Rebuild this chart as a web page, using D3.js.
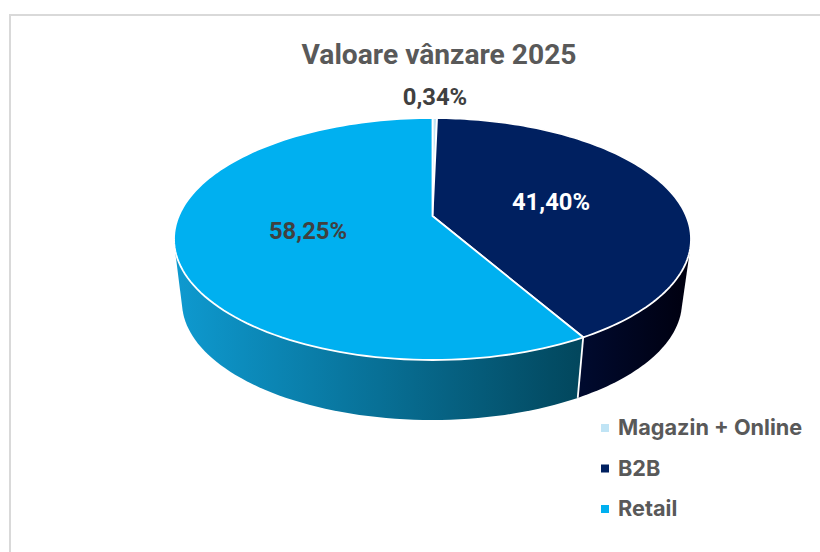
<!DOCTYPE html>
<html><head><meta charset="utf-8">
<script src="https://cdn.jsdelivr.net/npm/d3@7"></script>
<style>html,body{margin:0;padding:0;background:#fff;overflow:hidden}svg{display:block}</style>
</head><body><div id="c"></div>
<script>
const title = "Valoare vânzare 2025";
const categories = ["Magazin + Online","B2B","Retail"];
const values = [0.34,41.40,58.25];
const labels = ["0,34%","41,40%","58,25%"];
const topColors = ["#c0e4f5","#002060","#00b0f0"];
const wallColors = [["#7fb0c5","#5f8fa5"],["#000a2e","#00000f"],["#0e9ad0","#02465c"]];
const labelColors = ["#404040","#ffffff","#404040"];
const W=820,H=552;
const svg=d3.select("#c").append("svg").attr("width",W).attr("height",H);
svg.append("path").attr("d","M10 553V15H821").attr("fill","none").attr("stroke","#d9d9d9").attr("stroke-width",2);

const pie=d3.pie().sort(null).value(d=>d);
const arcs=pie(values);
const tilt=-0.19;
function unit(a){const u=Math.sin(a),v=-Math.cos(a),q=1+tilt*v;
  return [u*Math.sqrt(1-tilt*tilt)/q,(v+tilt)/q];}
const topE={cx:432.5,cy:239,rx:258.5,ry:121};
const botE={cx:432,cy:302,rx:250,ry:118};
const pt=(e,a)=>{const p=unit(a);return [e.cx+e.rx*p[0],e.cy+e.ry*p[1]];};
const samples=(a0,a1)=>d3.range(0,121).map(i=>a0+(a1-a0)*i/120);
const line=d3.line();
const defs=svg.append("defs");
[1,2].forEach(i=>{
  const d=arcs[i];
  const s=samples(d.startAngle,d.endAngle);
  const hull=d3.polygonHull(s.map(a=>pt(topE,a)).concat(s.map(a=>pt(botE,a))));
  const front=s.filter(a=>Math.cos(a)<0.2).map(a=>pt(topE,a)[0]);
  const gid="wall"+i;
  const g=defs.append("linearGradient").attr("id",gid).attr("gradientUnits","userSpaceOnUse")
    .attr("x1",d3.min(front)).attr("x2",d3.max(front)).attr("y1",0).attr("y2",0);
  g.append("stop").attr("offset",0).attr("stop-color",wallColors[i][0]);
  g.append("stop").attr("offset",1).attr("stop-color",wallColors[i][1]);
  svg.append("path").attr("d",line(hull)+"Z").attr("fill",`url(#${gid})`);
});
const seam=arcs[1].endAngle;
svg.append("path").attr("d",line([pt(topE,seam),pt(botE,seam)])).attr("stroke","#fff").attr("stroke-width",1.8).attr("fill","none");
const apex=[topE.cx,topE.cy+topE.ry*tilt];
arcs.forEach((d,i)=>{
  const s=samples(d.startAngle,d.endAngle).map(a=>pt(topE,a));
  svg.append("path").attr("d",line([apex,...s])+"Z").attr("fill",topColors[i])
    .attr("stroke","#fff").attr("stroke-width",1.8).attr("stroke-linejoin","round");
});
svg.append("text").attr("x",439).attr("y",64).attr("text-anchor","middle")
  .attr("font-family","Roboto").attr("font-weight",700).attr("font-size",28.2).attr("fill","#595959").text(title);
const labelPos=[[435,105],[551,210],[308,239]];
labels.forEach((t,i)=>svg.append("text").attr("x",labelPos[i][0]).attr("y",labelPos[i][1]).attr("text-anchor","middle")
  .attr("font-family","Roboto").attr("font-weight",700).attr("font-size",23.8).attr("fill",labelColors[i]).text(t));
const legendY=d3.scalePoint().domain(categories).range([428,509]);
categories.forEach((c,i)=>{
  const y=legendY(c);
  svg.append("rect").attr("x",601).attr("y",y-4).attr("width",8).attr("height",8).attr("fill",topColors[i]);
  svg.append("text").attr("x",618).attr("y",y+7).attr("font-family","Inter").attr("font-weight",700).attr("font-size",21.7).attr("fill","#595959").text(c);
});
</script></body></html>
